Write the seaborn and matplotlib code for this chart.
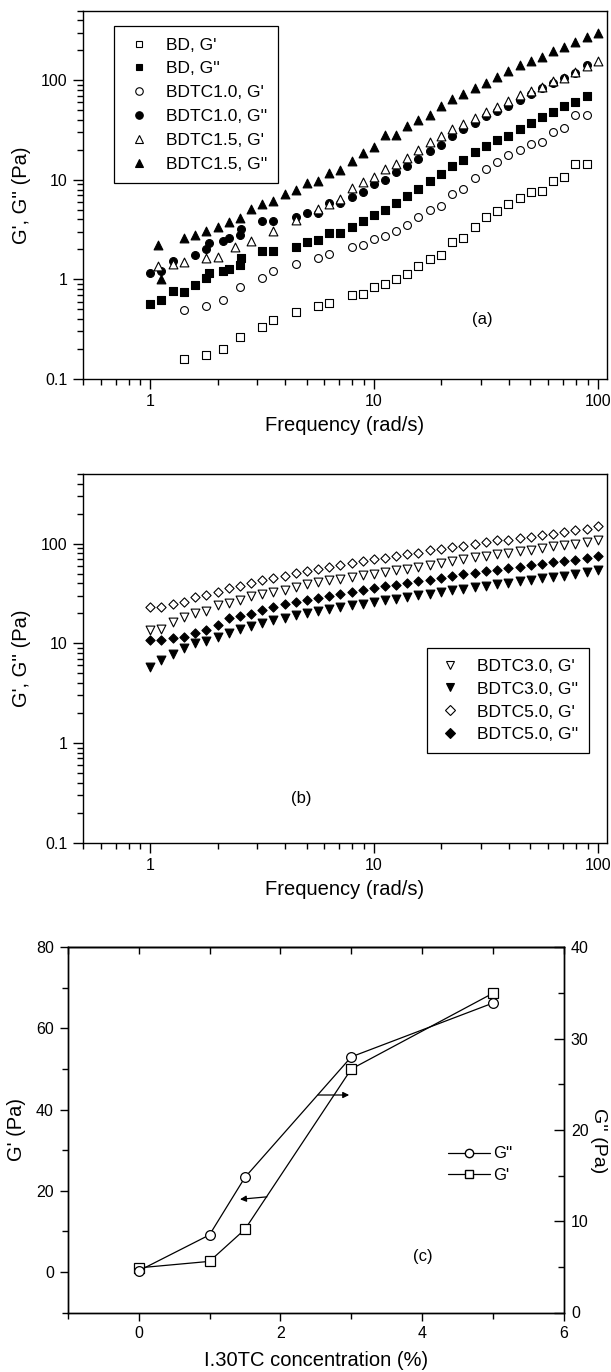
import numpy as np
import pandas as pd
import matplotlib
matplotlib.use("Agg")
import matplotlib.pyplot as plt
import seaborn as sns
from matplotlib.lines import Line2D
from matplotlib.ticker import FixedLocator, FuncFormatter, NullFormatter, LogLocator

# ---------------- data: panel (a) ----------------
bd_gp_f = [1.41, 1.78, 2.11, 2.51, 3.16, 3.55, 4.47, 5.62, 6.31, 7.94, 8.91, 10.0, 11.2, 12.6, 14.1, 15.8,
           17.8, 20.0, 22.4, 25.1, 28.2, 31.6, 35.5, 39.8, 44.7, 50.1, 56.2, 63.1, 70.8, 79.4, 89.1]
bd_gp = [0.160, 0.175, 0.202, 0.264, 0.333, 0.395, 0.472, 0.539, 0.582, 0.695, 0.722, 0.844, 0.891, 1.0,
         1.13, 1.37, 1.62, 1.76, 2.36, 2.63, 3.40, 4.21, 4.88, 5.74, 6.50, 7.47, 7.77, 9.80, 10.7, 14.5, 14.5]

bd_gpp_f = [1.0, 1.12, 1.26, 1.41, 1.58, 1.78, 1.82, 2.11, 2.24, 2.51, 2.54, 3.16, 3.55, 4.47, 5.01, 5.62,
            6.31, 7.08, 7.94, 8.91, 10.0, 11.2, 12.6, 14.1, 15.8, 17.8, 20.0, 22.4, 25.1, 28.2, 31.6, 35.5,
            39.8, 44.7, 50.1, 56.2, 63.1, 70.8, 79.4, 89.1]
bd_gpp = [0.573, 0.619, 0.769, 0.740, 0.877, 1.04, 1.17, 1.21, 1.26, 1.39, 1.63, 1.94, 1.94, 2.10, 2.40,
          2.49, 2.95, 2.95, 3.40, 3.90, 4.45, 5.00, 5.83, 6.92, 8.07, 9.64, 11.4, 13.7, 15.9, 19.2, 21.7,
          25.0, 27.8, 32.5, 37.3, 42.9, 47.8, 55.8, 60.8, 69.3]

tc10_gp_f = [1.41, 1.78, 2.11, 2.51, 3.16, 3.55, 4.47, 5.62, 6.31, 7.94, 8.91, 10.0, 11.2, 12.6, 14.1, 15.8,
             17.8, 20.0, 22.4, 25.1, 28.2, 31.6, 35.5, 39.8, 44.7, 50.1, 56.2, 63.1, 70.8, 79.4, 89.1]
tc10_gp = [0.491, 0.543, 0.619, 0.830, 1.04, 1.22, 1.43, 1.63, 1.80, 2.13, 2.22, 2.57, 2.73, 3.07, 3.50,
           4.21, 5.00, 5.48, 7.19, 8.13, 10.4, 12.8, 15.1, 17.9, 20.1, 23.1, 23.8, 30.1, 33.2, 45.3, 44.6]

tc10_gpp_f = [1.0, 1.12, 1.26, 1.58, 1.78, 1.82, 2.11, 2.24, 2.51, 2.54, 3.16, 3.55, 4.47, 5.01, 5.62, 6.31,
              7.08, 7.94, 8.91, 10.0, 11.2, 12.6, 14.1, 15.8, 17.8, 20.0, 22.4, 25.1, 28.2, 31.6, 35.5,
              39.8, 44.7, 50.1, 56.2, 63.1, 70.8, 79.4, 89.1]
tc10_gpp = [1.17, 1.22, 1.54, 1.76, 2.0, 2.3, 2.45, 2.59, 2.8, 3.19, 3.90, 3.90, 4.21, 4.70, 4.70, 5.92,
            5.83, 6.80, 7.63, 9.04, 10.0, 11.9, 13.9, 16.2, 19.4, 22.4, 27.5, 32.1, 37.3, 43.6, 49.0, 55.8,
            64.1, 73.1, 84.2, 92.9, 106, 119, 141]

tc15_gp_f = [1.08, 1.26, 1.41, 1.78, 2.0, 2.4, 2.82, 3.55, 4.47, 5.62, 6.31, 7.08, 7.94, 8.91, 10.0, 11.2,
             12.6, 14.1, 15.8, 17.8, 20.0, 22.4, 25.1, 28.2, 31.6, 35.5, 39.8, 44.7, 50.1, 56.2, 63.1,
             70.8, 79.4, 89.1, 100]
tc15_gp = [1.36, 1.43, 1.51, 1.63, 1.67, 2.13, 2.45, 3.09, 3.96, 5.15, 5.74, 6.45, 8.26, 9.42, 10.8, 13.0,
           14.4, 16.7, 19.9, 23.8, 27.4, 32.2, 36.3, 42.2, 47.5, 53.5, 62.2, 70.6, 77.6, 85.8, 97.7, 106,
           120, 138, 155]

tc15_gpp_f = [1.08, 1.12, 1.41, 1.58, 1.78, 2.0, 2.24, 2.51, 2.82, 3.16, 3.55, 3.98, 4.47, 5.01, 5.62, 6.31,
              7.08, 7.94, 8.91, 10.0, 11.2, 12.6, 14.1, 15.8, 17.8, 20.0, 22.4, 25.1, 28.2, 31.6, 35.5,
              39.8, 44.7, 50.1, 56.2, 63.1, 70.8, 79.4, 89.1, 100]
tc15_gpp = [2.2, 1.0, 2.6, 2.8, 3.1, 3.4, 3.8, 4.1, 5.1, 5.7, 6.2, 7.2, 8.0, 9.4, 9.8, 11.7, 12.5, 15.3,
            18.5, 21.5, 28.5, 28.5, 35.1, 40.3, 45.2, 54.8, 65.0, 73.5, 83.9, 94.2, 108, 123, 144, 158, 172,
            196, 215, 241, 273, 299]

# ---------------- data: panel (b) ----------------
freq_b = [1.0, 1.12, 1.26, 1.41, 1.58, 1.78, 2.0, 2.24, 2.51, 2.82, 3.16, 3.55, 3.98, 4.47, 5.01, 5.62, 6.31,
          7.08, 7.94, 8.91, 10.0, 11.2, 12.6, 14.1, 15.8, 17.8, 20.0, 22.4, 25.1, 28.2, 31.6, 35.5, 39.8,
          44.7, 50.1, 56.2, 63.1, 70.8, 79.4, 89.1, 100]
tc30_gp = [13.5, 14.0, 16.4, 18.4, 20.2, 21.1, 24.0, 25.4, 27.5, 29.6, 31.1, 32.7, 34.6, 36.7, 39.1, 41.2,
           42.9, 44.6, 46.3, 48.1, 50.0, 51.9, 54.0, 56.2, 58.3, 60.6, 64.0, 67.0, 70.7, 73.5, 75.2, 78.1,
           80.6, 83.8, 87.1, 91.2, 94.0, 96.2, 100, 104, 110]
tc30_gpp = [5.79, 6.86, 7.9, 9.07, 10.1, 10.5, 11.6, 12.7, 13.8, 14.8, 16.0, 17.0, 18.1, 19.1, 20.2, 21.1,
            22.1, 23.2, 24.0, 25.0, 26.0, 27.0, 28.0, 29.1, 30.3, 31.5, 32.7, 34.0, 35.4, 36.7, 37.9, 39.1,
            40.6, 41.9, 43.6, 44.9, 46.3, 47.7, 50.0, 51.6, 54.8]
tc50_gp = [23.2, 23.2, 24.6, 25.9, 29.1, 30.3, 32.7, 36.2, 37.6, 40.3, 42.9, 45.6, 47.4, 50.8, 53.2, 56.2,
           58.3, 61.6, 64.4, 66.5, 70.2, 72.4, 75.2, 78.1, 81.2, 85.7, 87.7, 92.6, 94.8, 100, 104, 108, 110,
           115, 118, 123, 126, 131, 136, 141, 149]
tc50_gpp = [10.7, 10.7, 11.4, 11.6, 12.7, 13.7, 15.3, 18.1, 18.8, 19.8, 21.4, 23.2, 24.6, 25.9, 27.0, 28.8,
            30.1, 31.5, 32.7, 34.6, 35.9, 37.3, 38.8, 40.3, 42.2, 43.6, 45.6, 47.0, 49.2, 51.2, 52.8, 54.8,
            57.0, 58.3, 60.6, 63.0, 65.0, 67.0, 69.1, 72.4, 74.6]

# ---------------- data: panel (c) ----------------
conc = [0, 1, 1.5, 3, 5]
gprime_c = [1.0, 2.6, 10.5, 50.0, 68.7]
gdouble_c = [4.56, 8.5, 14.8, 28.0, 33.9]

# ---------------- style ----------------
sns.set_theme(style="ticks")
plt.rcParams["font.family"] = ["Liberation Sans", "DejaVu Sans"]
for k in ["text.color", "axes.labelcolor", "xtick.color", "ytick.color", "axes.edgecolor"]:
    plt.rcParams[k] = "black"
plt.rcParams["axes.linewidth"] = 1.0

fig = plt.figure(figsize=(6.11, 13.72), dpi=100)
W, H = 611.0, 1372.0


def add_axes_px(left, top, right, bottom):
    return fig.add_axes([left / W, 1 - bottom / H, (right - left) / W, (bottom - top) / H])


def fmt_g(v, pos):
    return "%g" % v


def style_log(ax):
    ax.set_xscale("log")
    ax.set_yscale("log")
    ax.set_xlim(0.5, 110)
    ax.set_ylim(0.1, 500)
    ax.xaxis.set_major_locator(FixedLocator([1, 10, 100]))
    ax.yaxis.set_major_locator(FixedLocator([0.1, 1, 10, 100]))
    ax.xaxis.set_major_formatter(FuncFormatter(fmt_g))
    ax.yaxis.set_major_formatter(FuncFormatter(fmt_g))
    ax.xaxis.set_minor_locator(LogLocator(base=10, subs=np.arange(2, 10)))
    ax.yaxis.set_minor_locator(LogLocator(base=10, subs=np.arange(2, 10)))
    ax.xaxis.set_minor_formatter(NullFormatter())
    ax.yaxis.set_minor_formatter(NullFormatter())
    ax.tick_params(which="major", direction="out", length=7, width=1.0, labelsize=11.5, pad=4,
                   top=False, right=False)
    ax.tick_params(which="minor", direction="out", length=4, width=1.0, top=False, right=False)
    for sp in ax.spines.values():
        sp.set_visible(True)
        sp.set_color("black")
        sp.set_linewidth(1.0)
    ax.set_xlabel("Frequency (rad/s)", fontsize=14.5)
    ax.set_ylabel("G', G'' (Pa)", fontsize=14.5)
    ax.xaxis.set_label_coords(0.5, -0.10)
    ax.yaxis.set_label_coords(-0.10, 0.5)


def scat(ax, f, g, marker, filled, s):
    df = pd.DataFrame({"f": f, "g": g})
    if filled:
        sns.scatterplot(data=df, x="f", y="g", ax=ax, marker=marker, s=s, color="black",
                        edgecolor="black", linewidth=0.8, zorder=3)
    else:
        sns.scatterplot(data=df, x="f", y="g", ax=ax, marker=marker, s=s, color="white",
                        edgecolor="black", linewidth=0.8, zorder=3)


def handle(marker, filled, ms, label):
    return Line2D([], [], ls="none", marker=marker, ms=ms, mew=0.8, mec="black",
                  mfc="black" if filled else "white", label=label)


# ---------------- panel (a) ----------------
axa = add_axes_px(83, 10.7, 607, 379)
scat(axa, bd_gp_f, bd_gp, "s", False, 28)
scat(axa, bd_gpp_f, bd_gpp, "s", True, 28)
scat(axa, tc10_gp_f, tc10_gp, "o", False, 32)
scat(axa, tc10_gpp_f, tc10_gpp, "o", True, 32)
scat(axa, tc15_gp_f, tc15_gp, "^", False, 40)
scat(axa, tc15_gpp_f, tc15_gpp, "^", True, 40)
style_log(axa)
ha = [handle("s", False, 5.0, "BD, G'"), handle("s", True, 5.0, "BD, G''"),
      handle("o", False, 5.4, "BDTC1.0, G'"), handle("o", True, 5.4, "BDTC1.0, G''"),
      handle("^", False, 6.0, "BDTC1.5, G'"), handle("^", True, 6.0, "BDTC1.5, G''")]
lga = axa.legend(handles=ha, loc="upper left", bbox_to_anchor=(0.06, 0.958), borderaxespad=0,
                 fontsize=12.5, frameon=True, fancybox=False, edgecolor="black", framealpha=1,
                 handlelength=1.5, handletextpad=0.8, labelspacing=0.5, borderpad=0.65)
lga.get_frame().set_linewidth(0.9)
axa.text(30.6, 0.40, "(a)", fontsize=12, ha="center", va="center")

# ---------------- panel (b) ----------------
axb = add_axes_px(83, 474, 607, 842.7)
scat(axb, freq_b, tc30_gp, "v", False, 40)
scat(axb, freq_b, tc30_gpp, "v", True, 40)
scat(axb, freq_b, tc50_gp, "D", False, 22)
scat(axb, freq_b, tc50_gpp, "D", True, 22)
style_log(axb)
hb = [handle("v", False, 6.0, "BDTC3.0, G'"), handle("v", True, 6.0, "BDTC3.0, G''"),
      handle("D", False, 4.6, "BDTC5.0, G'"), handle("D", True, 4.6, "BDTC5.0, G''")]
lgb = axb.legend(handles=hb, loc="upper left", bbox_to_anchor=(0.656, 0.528), borderaxespad=0,
                 fontsize=12.5, frameon=True, fancybox=False, edgecolor="black", framealpha=1,
                 handlelength=1.5, handletextpad=0.8, labelspacing=0.45, borderpad=0.6)
lgb.get_frame().set_linewidth(0.9)
axb.text(4.72, 0.28, "(b)", fontsize=12, ha="center", va="center")

# ---------------- panel (c) ----------------
axc = add_axes_px(67.7, 947.3, 564, 1312.5)
axc2 = axc.twinx()
sns.lineplot(x=conc, y=gprime_c, ax=axc, color="black", linewidth=0.9, marker="s", markersize=6.5,
             markerfacecolor="white", markeredgecolor="black", markeredgewidth=0.9)
sns.lineplot(x=conc, y=gdouble_c, ax=axc2, color="black", linewidth=0.9, marker="o", markersize=7,
             markerfacecolor="white", markeredgecolor="black", markeredgewidth=0.9)
axc.set_xlim(-1, 6)
axc.set_ylim(-10, 80)
axc2.set_ylim(0, 40)
axc.xaxis.set_major_locator(FixedLocator([0, 2, 4, 6]))
axc.xaxis.set_minor_locator(FixedLocator([-1, 1, 3, 5]))
axc.yaxis.set_major_locator(FixedLocator([0, 20, 40, 60, 80]))
axc.yaxis.set_minor_locator(FixedLocator([-10, 10, 30, 50, 70]))
axc2.yaxis.set_major_locator(FixedLocator([0, 10, 20, 30, 40]))
axc2.yaxis.set_minor_locator(FixedLocator([5, 15, 25, 35]))
axc.tick_params(which="major", direction="out", length=6, width=1.0, labelsize=11.5, pad=4,
                top=False, right=False)
axc.tick_params(which="minor", direction="out", length=4, width=1.0, top=False, right=False)
axc2.tick_params(which="major", direction="in", length=7, width=1.0, labelsize=11.5, pad=5)
axc2.tick_params(which="minor", direction="in", length=4, width=1.0)
sec = axc.secondary_xaxis("top")
sec.xaxis.set_major_locator(FixedLocator([-1, 0, 1, 2, 3, 4, 5, 6]))
sec.xaxis.set_major_formatter(NullFormatter())
sec.tick_params(direction="in", length=5, width=1.0)
for a in (axc, axc2):
    for sp in a.spines.values():
        sp.set_visible(True)
        sp.set_color("black")
        sp.set_linewidth(1.0)
axc.set_xlabel("I.30TC concentration (%)", fontsize=14.5)
axc.set_ylabel("G' (Pa)", fontsize=14.5)
axc.xaxis.set_label_coords(0.5, -0.105)
axc.yaxis.set_label_coords(-0.085, 0.5)
axc2.set_ylabel("G'' (Pa)", fontsize=14, rotation=270, va="center", ha="center")
axc2.yaxis.set_label_coords(1.07, 0.47)

axc.annotate("", xy=(2.97, 43.6), xytext=(2.53, 43.6),
             arrowprops=dict(arrowstyle="-|>", color="black", lw=0.9, mutation_scale=9,
                             shrinkA=0, shrinkB=0))
axc.annotate("", xy=(1.43, 17.9), xytext=(1.81, 18.5),
             arrowprops=dict(arrowstyle="-|>", color="black", lw=0.9, mutation_scale=9,
                             shrinkA=0, shrinkB=0))
axc.text(4.01, 3.7, "(c)", fontsize=12, ha="center", va="center")

hc = [Line2D([], [], color="black", lw=0.9, marker="o", ms=6, mfc="white", mec="black", label="G''"),
      Line2D([], [], color="black", lw=0.9, marker="s", ms=5.5, mfc="white", mec="black", label="G'")]
lgc = axc2.legend(handles=hc, loc="upper left", bbox_to_anchor=(0.766, 0.455), borderaxespad=0,
                  fontsize=12, frameon=False, handlelength=2.5, handletextpad=0.2, labelspacing=0.4,
                  borderpad=0, numpoints=1)

fig.savefig("out.png", dpi=100)
